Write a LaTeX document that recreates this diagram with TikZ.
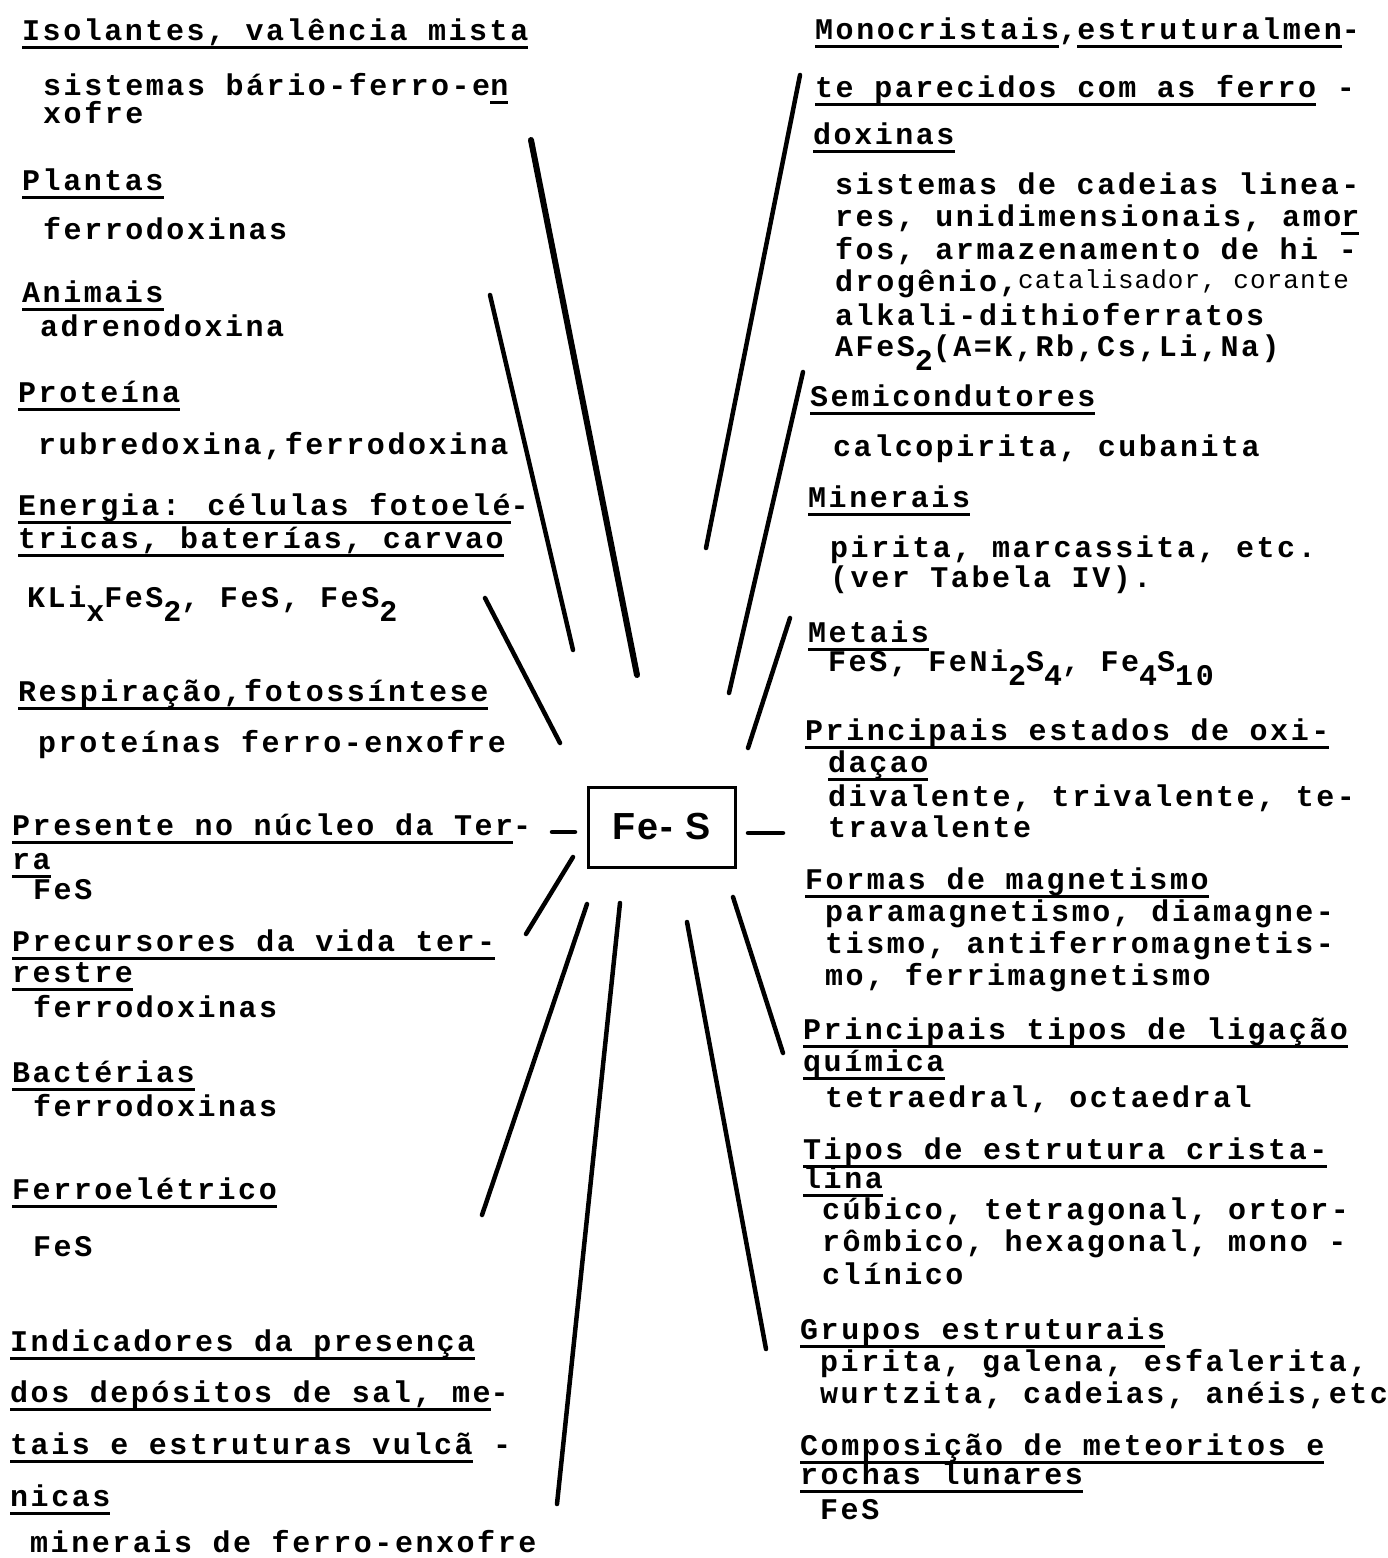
\documentclass[tikz,border=0pt]{standalone}
\usepackage{fontspec}
\newfontfamily\tw[LetterSpace=8.5]{Liberation Mono}
\newfontfamily\twsmall[LetterSpace=4]{Liberation Mono}
\newfontfamily\boxfont[LetterSpace=6]{Liberation Sans}
\newcommand\uln[1]{\setbox0=\hbox{#1}\rlap{\raisebox{-8.5pt}{\rule{\wd0}{2.5pt}}}\box0\relax}
\newcommand\lo[1]{\raisebox{-14pt}{#1}}
\tikzset{
  txt/.style={anchor=base west, inner sep=0pt, font=\tw\bfseries\fontsize{30}{31}\selectfont},
  smalltxt/.style={anchor=base west, inner sep=0pt, font=\twsmall\fontsize{26}{27}\selectfont},
  ray/.style={line width=4.5pt, line cap=round},
  hub/.style={draw, line width=3pt, minimum width=147pt, minimum height=80pt, inner sep=0pt,
    font=\boxfont\bfseries\fontsize{37.7}{38}\selectfont}
}
\begin{document}
\begin{tikzpicture}[x=1pt,y=-1pt]
\fill[white] (0,0) rectangle (1388,1558);
\useasboundingbox (0,0) rectangle (1388,1558);

% central node
\node[hub] (fes) at (661.5,827) {Fe- S};

% left column
\node[txt] (l1) at (22,40) {\uln{Isolantes, valência mista}};
\node[txt] (l2) at (43,95) {sistemas bário-ferro-e\uln{n}};
\node[txt] (l3) at (43,123) {xofre};
\node[txt] (l4) at (22,190) {\uln{Plantas}};
\node[txt] (l5) at (43,239) {ferrodoxinas};
\node[txt] (l6) at (22,302) {\uln{Animais}};
\node[txt] (l7) at (40,336) {adrenodoxina};
\node[txt] (l8) at (18,402) {\uln{Proteína}};
\node[txt] (l9) at (38,454) {rubredoxina,ferrodoxina};
\node[txt] (l10) at (18,515) {\uln{Energia: células fotoelé}-};
\node[txt] (l11) at (18,548) {\uln{tricas, baterías, carvao}};
\node[txt] (l12) at (27,607) {KLi\lo{x}FeS\lo{2}, FeS, FeS\lo{2}};
\node[txt] (l13) at (18,701) {\uln{Respiração,fotossíntese}};
\node[txt] (l14) at (38,752) {proteínas ferro-enxofre};
\node[txt] (l15) at (12,835) {\uln{Presente no núcleo da Ter}-};
\node[txt] (l16) at (12,869) {\uln{ra}};
\node[txt] (l17) at (33,899) {FeS};
\node[txt] (l18) at (12,951) {\uln{Precursores da vida ter-}};
\node[txt] (l19) at (12,982) {\uln{restre}};
\node[txt] (l20) at (33,1017) {ferrodoxinas};
\node[txt] (l21) at (12,1082) {\uln{Bactérias}};
\node[txt] (l22) at (33,1116) {ferrodoxinas};
\node[txt] (l23) at (12,1199) {\uln{Ferroelétrico}};
\node[txt] (l24) at (33,1256) {FeS};
\node[txt] (l25) at (10,1351) {\uln{Indicadores da presença}};
\node[txt] (l26) at (10,1402) {\uln{dos depósitos de sal, me}-};
\node[txt] (l27) at (10,1454) {\uln{tais e estruturas vulcã} -};
\node[txt] (l28) at (10,1506) {\uln{nicas}};
\node[txt] (l29) at (30,1552) {minerais de ferro-enxofre};

% right column
\node[txt] (r1) at (815,39) {\uln{Monocristais},\uln{estruturalmen}-};
\node[txt] (r2) at (815,97) {\uln{te parecidos com as ferro} -};
\node[txt] (r3) at (813,144) {\uln{doxinas}};
\node[txt] (r4) at (835,194) {sistemas de cadeias linea-};
\node[txt] (r5) at (835,226) {res, unidimensionais, amo\uln{r}};
\node[txt] (r6) at (835,259) {fos, armazenamento de hi -};
\node[txt] (r7) at (835,291) {drogênio,};
\node[smalltxt] (r7b) at (1018,288) {catalisador, corante};
\node[txt] (r8) at (835,325) {alkali-dithioferratos};
\node[txt] (r9) at (835,356) {AFeS\lo{2}(A=K,Rb,Cs,Li,Na)};
\node[txt] (r10) at (810,406) {\uln{Semicondutores}};
\node[txt] (r11) at (833,456) {calcopirita, cubanita};
\node[txt] (r12) at (808,507) {\uln{Minerais}};
\node[txt] (r13) at (830,557) {pirita, marcassita, etc.};
\node[txt] (r14) at (830,587) {(ver Tabela IV).};
\node[txt] (r15) at (808,642) {\uln{Metais}};
\node[txt] (r16) at (828,671) {FeS, FeNi\lo{2}S\lo{4}, Fe\lo{4}S\lo{10}};
\node[txt] (r17) at (805,740) {\uln{Principais estados de oxi-}};
\node[txt] (r18) at (828,772) {\uln{daçao}};
\node[txt] (r19) at (828,806) {divalente, trivalente, te-};
\node[txt] (r20) at (828,837) {travalente};
\node[txt] (r21) at (805,889) {\uln{Formas de magnetismo}};
\node[txt] (r22) at (825,921) {paramagnetismo, diamagne-};
\node[txt] (r23) at (825,953) {tismo, antiferromagnetis-};
\node[txt] (r24) at (825,985) {mo, ferrimagnetismo};
\node[txt] (r25) at (803,1039) {\uln{Principais tipos de ligação}};
\node[txt] (r26) at (803,1071) {\uln{química}};
\node[txt] (r27) at (825,1107) {tetraedral, octaedral};
\node[txt] (r28) at (803,1159) {\uln{Tipos de estrutura crista-}};
\node[txt] (r29) at (803,1188) {\uln{lina}};
\node[txt] (r30) at (822,1219) {cúbico, tetragonal, ortor-};
\node[txt] (r31) at (822,1251) {rômbico, hexagonal, mono -};
\node[txt] (r32) at (822,1284) {clínico};
\node[txt] (r33) at (800,1339) {\uln{Grupos estruturais}};
\node[txt] (r34) at (820,1371) {pirita, galena, esfalerita,};
\node[txt] (r35) at (820,1403) {wurtzita, cadeias, anéis,etc};
\node[txt] (r36) at (800,1455) {\uln{Composição de meteoritos e}};
\node[txt] (r37) at (800,1484) {\uln{rochas lunares}};
\node[txt] (r38) at (820,1519) {FeS};

% ray end points
\coordinate (a1) at (531,140);  \coordinate (b1) at (637,675);
\coordinate (a2) at (490,295);  \coordinate (b2) at (573,650);
\coordinate (a3) at (485,598);  \coordinate (b3) at (560,743);
\coordinate (a4) at (800,75);   \coordinate (b4) at (706,548);
\coordinate (a5) at (803,372);  \coordinate (b5) at (729,693);
\coordinate (a6) at (790,618);  \coordinate (b6) at (748,748);
\coordinate (a7) at (552,832);  \coordinate (b7) at (575,832);
\coordinate (a8) at (748,833);  \coordinate (b8) at (783,833);
\coordinate (a9) at (573,857);  \coordinate (b9) at (526,934);
\coordinate (a10) at (587,904); \coordinate (b10) at (482,1215);
\coordinate (a11) at (620,903); \coordinate (b11) at (557,1504);
\coordinate (a12) at (687,922); \coordinate (b12) at (766,1349);
\coordinate (a13) at (733,897); \coordinate (b13) at (783,1053);

\draw[ray, line width=6pt] (a1) -- (b1);
\foreach \i in {2,...,13} {\draw[ray] (a\i) -- (b\i);}
\end{tikzpicture}
\end{document}
